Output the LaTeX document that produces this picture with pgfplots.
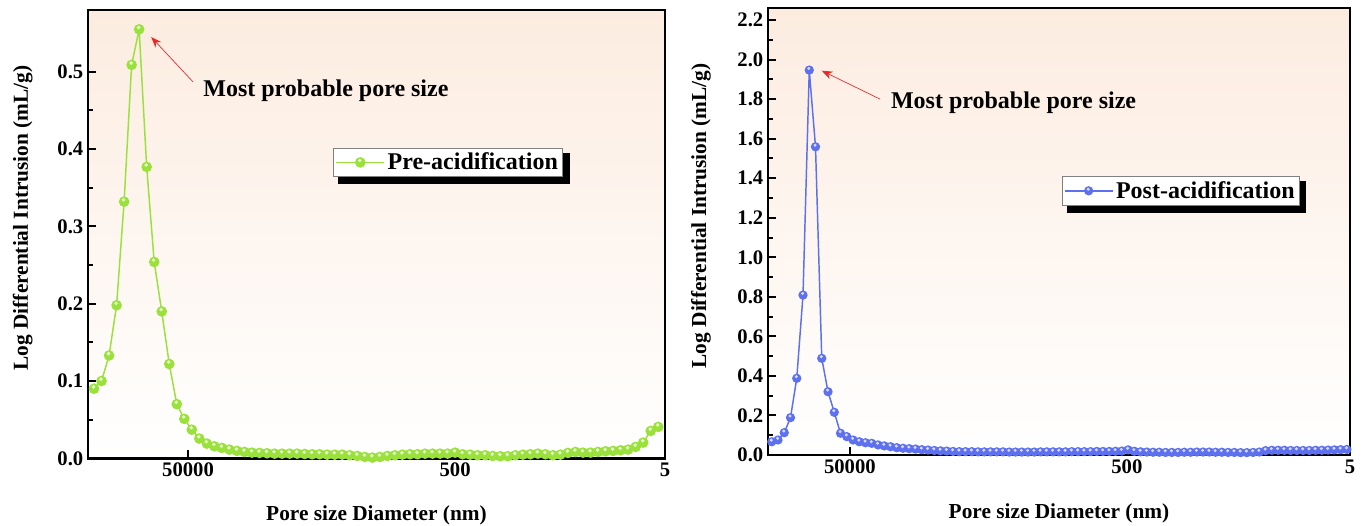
\documentclass[border=0pt]{standalone}
\usepackage{fontspec}
\setmainfont{Liberation Serif}
\usepackage{pgfplots}
\pgfplotsset{compat=1.18}
\usetikzlibrary{arrows.meta}
\definecolor{lgreen}{RGB}{155,225,60}
\definecolor{lblue}{RGB}{92,112,240}
\definecolor{bgtop}{RGB}{252,236,224}
\definecolor{ared}{RGB}{235,40,40}

\pgfdeclareplotmark{sball}{%
  \pgfpathcircle{\pgfpointorigin}{\pgfplotmarksize}\pgfusepathqfill
  \begin{pgfscope}
  \pgfsetfillcolor{white}\pgfsetfillopacity{0.75}%
  \pgfpathcircle{\pgfpoint{-0.1\pgfplotmarksize}{0.35\pgfplotmarksize}}{0.36\pgfplotmarksize}\pgfusepathqfill
  \end{pgfscope}}

\pgfplotsset{
  mystyle/.style={
    scale only axis, clip=false,
    axis line style={line width=2pt},
    tick align=inside, xtick pos=left, ytick pos=left,
    major tick length=6pt, minor tick length=3.5pt,
    tick style={black, line width=1.5pt},
    tick label style={font=\fontsize{15.5}{16}\selectfont\bfseries},
    label style={font=\fontsize{16}{17}\selectfont\bfseries},
    /pgf/number format/assume math mode=true,
    yticklabel style={/pgf/number format/.cd, fixed, fixed zerofill, precision=1},
    minor y tick num=1,
    axis background/.style={top color=bgtop, bottom color=white},
    legend cell align=left,
    legend image code/.code={\draw[mark repeat=2, mark phase=2, #1] plot coordinates {(0pt,0pt) (18pt,0pt) (36pt,0pt)};},
    legend style={draw=gray, line width=0.6pt, fill=white, font=\fontsize{18}{19}\selectfont\bfseries, inner sep=1.5pt, anchor=center},
  }
}

\pgfplotstableread{
i v
0 0.090
1 0.100
2 0.133
3 0.198
4 0.332
5 0.509
6 0.555
7 0.377
8 0.254
9 0.190
10 0.122
11 0.070
12 0.051
13 0.037
14 0.0255
15 0.019
16 0.0155
17 0.0134
18 0.0112
19 0.0095
20 0.0082
21 0.0073
22 0.0069
23 0.0065
24 0.0060
25 0.0060
26 0.0060
27 0.0060
28 0.0056
29 0.0052
30 0.0052
31 0.0047
32 0.0047
33 0.0047
34 0.0039
35 0.0030
36 0.0017
37 0.0009
38 0.0017
39 0.0030
40 0.0039
41 0.0047
42 0.0052
43 0.0052
44 0.0060
45 0.0060
46 0.0060
47 0.0060
48 0.0073
49 0.0052
50 0.0047
51 0.0039
52 0.0039
53 0.0030
54 0.0026
55 0.0026
56 0.0039
57 0.0047
58 0.0052
59 0.0060
60 0.0052
61 0.0039
62 0.0047
63 0.0069
64 0.0082
65 0.0073
66 0.0073
67 0.0082
68 0.0090
69 0.0095
70 0.0104
71 0.0112
72 0.0147
73 0.0203
74 0.0354
75 0.0406
}\pre

\pgfplotstableread{
i v
0 0.067
1 0.076
2 0.113
3 0.189
4 0.388
5 0.809
6 1.947
7 1.559
8 0.489
9 0.320
10 0.216
11 0.110
12 0.093
13 0.076
14 0.067
15 0.062
16 0.059
17 0.051
18 0.046
19 0.042
20 0.037
21 0.034
22 0.032
23 0.030
24 0.027
25 0.025
26 0.023
27 0.021
28 0.020
29 0.018
30 0.017
31 0.017
32 0.017
33 0.016
34 0.016
35 0.016
36 0.016
37 0.016
38 0.015
39 0.015
40 0.015
41 0.015
42 0.015
43 0.016
44 0.016
45 0.016
46 0.016
47 0.016
48 0.017
49 0.017
50 0.017
51 0.017
52 0.018
53 0.018
54 0.018
55 0.019
56 0.020
57 0.026
58 0.019
59 0.016
60 0.015
61 0.014
62 0.014
63 0.013
64 0.013
65 0.013
66 0.014
67 0.014
68 0.015
69 0.015
70 0.015
71 0.014
72 0.014
73 0.013
74 0.013
75 0.012
76 0.012
77 0.013
78 0.015
79 0.022
80 0.024
81 0.024
82 0.024
83 0.023
84 0.023
85 0.023
86 0.023
87 0.024
88 0.024
89 0.025
90 0.026
91 0.027
92 0.028
}\post

\begin{document}
\begin{tikzpicture}
\useasboundingbox (0,0) rectangle (1023pt,-393.75pt);

\begin{axis}[mystyle,
  at={(66pt,-343.7pt)}, anchor=south west,
  width=432.75pt, height=336.2pt,
  xmin=-0.8, xmax=75.9, ymin=0, ymax=0.58,
  xtick={12.5,48,75.9}, xticklabels={50000,500,5},
  ytick={0,0.1,0.2,0.3,0.4,0.5},
  xlabel={Pore size Diameter (nm)},
  ylabel={Log Differential Intrusion (mL/g)},
  x label style={at={(axis description cs:0.5,-0.138)}, anchor=base},
  y label style={at={(axis description cs:-0.113,0.536)}, anchor=center},
  legend style={at={(axis description cs:0.624,0.660)}},
]
\addplot[color=lgreen, line width=1.1pt, mark=sball, mark size=4pt, mark options={fill=lgreen}] table[x=i,y=v] {\pre};
\addlegendentry{Pre-acidification}
\fill[black] (axis description cs:0.434,0.611) rectangle (axis description cs:0.835,0.680);
\draw[ared, line width=0.5pt, -{Stealth[length=8pt,width=6pt]}] (axis cs:13.16,0.487) -- (axis cs:7.6,0.545);
\node[anchor=base west, font=\fontsize{18}{19}\selectfont\bfseries, inner sep=0pt] at (axis cs:14.5,0.468) {Most probable pore size};
\end{axis}

\begin{axis}[mystyle,
  at={(576pt,-341.25pt)}, anchor=south west,
  width=436.5pt, height=335.25pt,
  xmin=-0.6, xmax=92.5, ymin=0, ymax=2.261,
  xtick={12.5,56.8,92.5}, xticklabels={50000,500,5},
  ytick={0,0.2,0.4,0.6,0.8,1.0,1.2,1.4,1.6,1.8,2.0,2.2},
  xlabel={Pore size Diameter (nm)},
  ylabel={Log Differential Intrusion (mL/g)},
  x label style={at={(axis description cs:0.5,-0.141)}, anchor=base},
  y label style={at={(axis description cs:-0.115,0.535)}, anchor=center},
  legend style={at={(axis description cs:0.709,0.591)}},
]
\addplot[color=lblue, line width=1.1pt, mark=sball, mark size=3.5pt, mark options={fill=lblue}] table[x=i,y=v] {\post};
\addlegendentry{Post-acidification}
\fill[black] (axis description cs:0.514,0.542) rectangle (axis description cs:0.924,0.614);
\draw[ared, line width=0.5pt, -{Stealth[length=8pt,width=6pt]}] (axis cs:17.33,1.80) -- (axis cs:8.0,1.944);
\node[anchor=base west, font=\fontsize{18}{19}\selectfont\bfseries, inner sep=0pt] at (axis cs:19.04,1.755) {Most probable pore size};
\end{axis}
\end{tikzpicture}
\end{document}
